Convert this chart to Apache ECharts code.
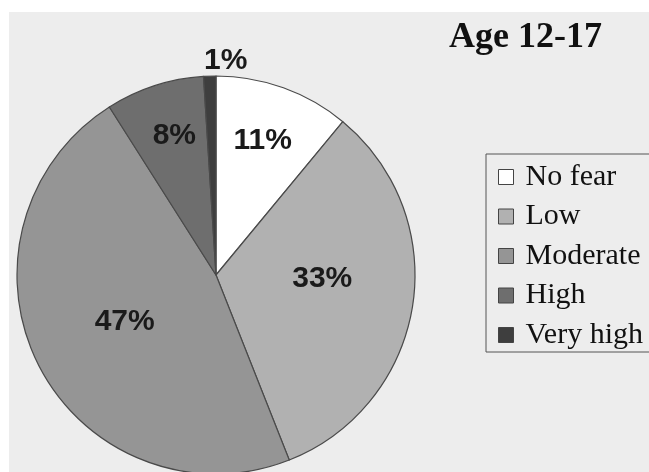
<!DOCTYPE html>
<html>
<head>
<meta charset="utf-8">
<script src="https://cdn.jsdelivr.net/npm/echarts@6/dist/echarts.min.js"></script>
<style>
  html, body { margin: 0; padding: 0; background: #ffffff; }
  #bg { position: absolute; left: 9px; top: 12px; width: 640px; height: 460px; background: #ededed; }
  #chart { position: absolute; left: 0; top: 0; width: 649px; height: 472px; }
</style>
</head>
<body>
<div id="bg"></div>
<div id="chart"></div>
<script>
const titleText = 'Age 12-17';
const categories = ['No fear', 'Low', 'Moderate', 'High', 'Very high'];
const values = [11, 33, 47, 8, 1];
const colors = ['#ffffff', '#b1b1b1', '#959595', '#6e6e6e', '#3e3e3e'];
const labelOffsets = [[12, -38], [5, -12], [0, 0], [-10, -42], [13, -112]];

const chart = echarts.init(document.getElementById('chart'), null, { renderer: 'canvas' });

const data = categories.map((name, i) => ({
  name: name,
  value: values[i],
  itemStyle: { color: colors[i] },
  label: { offset: labelOffsets[i] }
}));

chart.setOption({
  backgroundColor: 'transparent',
  animation: false,
  title: {
    text: titleText,
    left: 449,
    top: 20,
    padding: 0,
    textStyle: {
      fontFamily: 'Liberation Serif',
      fontWeight: 'bold',
      fontSize: 36,
      color: '#111111'
    }
  },
  legend: {
    orient: 'vertical',
    left: 486,
    top: 154,
    padding: [8, 30, 2, 12],
    itemWidth: 15,
    itemHeight: 15,
    itemGap: 9.5,
    icon: 'rect',
    borderColor: '#555555',
    borderWidth: 1,
    itemStyle: { borderColor: '#444444', borderWidth: 1 },
    textStyle: {
      fontFamily: 'Liberation Serif',
      fontSize: 30,
      lineHeight: 30,
      color: '#111111',
      padding: [0, 0, 0, 7]
    },
    data: categories
  },
  series: [{
    type: 'pie',
    center: [216, 275],
    radius: [0, 199],
    startAngle: 90,
    clockwise: true,
    avoidLabelOverlap: false,
    itemStyle: { borderColor: '#4a4a4a', borderWidth: 1.2 },
    label: {
      show: true,
      position: 'inside',
      formatter: '{c}%',
      fontFamily: 'Liberation Sans',
      fontWeight: 'bold',
      fontSize: 30,
      color: '#1a1a1a'
    },
    labelLine: { show: false },
    emphasis: { disabled: true },
    data: data
  }]
});
</script>
</body>
</html>
